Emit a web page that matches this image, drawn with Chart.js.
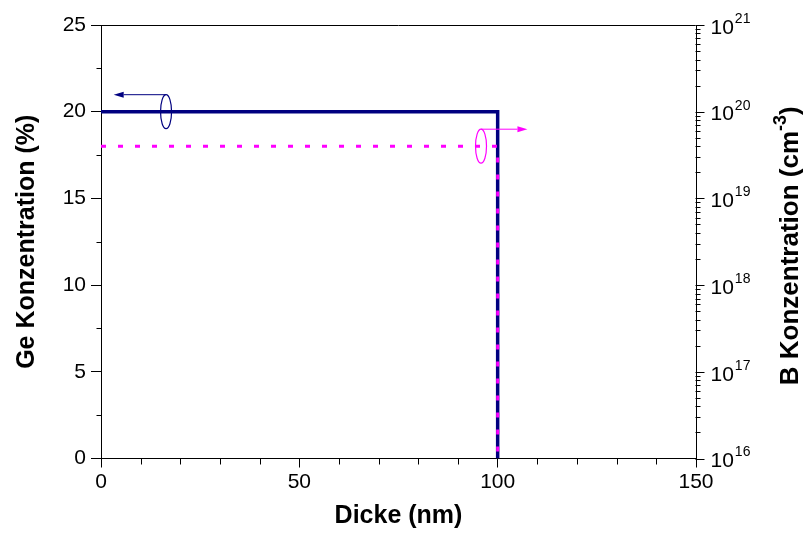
<!DOCTYPE html>
<html>
<head>
<meta charset="utf-8">
<script src="https://cdn.jsdelivr.net/npm/chart.js@4"></script>
<style>
  html, body { margin: 0; padding: 0; background: #fff; }
  #wrap { width: 804px; height: 533px; }
</style>
</head>
<body>
<div id="wrap"><canvas id="c" width="804" height="533"></canvas></div>
<script>
// Layer profile: thickness (nm), Ge content (%), boron doping (cm^-3)
const thicknessNm = [0, 100, 100];
const geConcentration = [20, 20, 0];
const boronConcentration = [4e19, 4e19, 1e16];

// Axis ranges and tick steps
const xRange = [0, 150];
const geRange = [0, 25];
const boronDecades = [16, 17, 18, 19, 20, 21];

// Marker ellipses with arrows pointing to the axis each curve belongs to
const geMarker = { x: 16.4, y: 20, arrowTo: 3.2 };
const boronMarker = { x: 95.8, y: 4e19, arrowTo: 107.5 };

const NAVY = '#000080';
const MAGENTA = '#ff00ff';
const FONT = "'Liberation Sans', Arial, sans-serif";
const TICK_SIZE = 21;
const TITLE_SIZE = 25;

function drawArrowMarker(ctx, cx, cy, tipX, color) {
  const rx = 5.5, ry = 17;
  ctx.save();
  ctx.strokeStyle = color;
  ctx.fillStyle = color;
  ctx.lineWidth = 1.2;
  ctx.beginPath();
  ctx.ellipse(cx, cy, rx, ry, 0, 0, Math.PI * 2);
  ctx.stroke();
  const ay = cy - ry;
  const dir = tipX < cx ? -1 : 1;
  const headLen = 10, headHalf = 3;
  ctx.lineWidth = 1;
  ctx.beginPath();
  ctx.moveTo(cx, ay);
  ctx.lineTo(tipX - dir * headLen, ay);
  ctx.stroke();
  ctx.beginPath();
  ctx.moveTo(tipX, ay);
  ctx.lineTo(tipX - dir * headLen, ay - headHalf);
  ctx.lineTo(tipX - dir * headLen, ay + headHalf);
  ctx.closePath();
  ctx.fill();
  ctx.restore();
}

const decorPlugin = {
  id: 'decor',
  afterDatasetsDraw(chart) {
    const { ctx, scales } = chart;
    drawArrowMarker(ctx, scales.x.getPixelForValue(geMarker.x), scales.y.getPixelForValue(geMarker.y),
      scales.x.getPixelForValue(geMarker.arrowTo), NAVY);
    drawArrowMarker(ctx, scales.x.getPixelForValue(boronMarker.x), scales.y2.getPixelForValue(boronMarker.y),
      scales.x.getPixelForValue(boronMarker.arrowTo), MAGENTA);
  },
  afterDraw(chart) {
    const { ctx, chartArea, scales } = chart;
    const L = Math.round(chartArea.left) + 0.5;
    const R = Math.round(chartArea.right) - 0.5;
    const T = Math.round(chartArea.top) + 0.5;
    const B = Math.round(chartArea.bottom) - 0.5;
    ctx.save();
    ctx.strokeStyle = '#000';
    ctx.lineWidth = 1;
    ctx.beginPath();
    // top frame
    ctx.moveTo(L, T); ctx.lineTo(R, T);
    // left minor ticks
    for (let v = geRange[0] + 2.5; v < geRange[1]; v += 5) {
      const y = Math.round(scales.y.getPixelForValue(v)) + 0.5;
      ctx.moveTo(L - 5, y); ctx.lineTo(L, y);
    }
    // bottom minor ticks
    for (let v = xRange[0] + 10; v < xRange[1]; v += 10) {
      if (v % 50 === 0) continue;
      const x = Math.round(scales.x.getPixelForValue(v)) + 0.5;
      ctx.moveTo(x, B); ctx.lineTo(x, B + 6);
    }
    // right log ticks
    for (let i = 0; i < boronDecades.length; i++) {
      const d = boronDecades[i];
      const y = Math.round(scales.y2.getPixelForValue(Math.pow(10, d))) + 0.5;
      ctx.moveTo(R, y); ctx.lineTo(R + 9, y);
      if (i < boronDecades.length - 1) {
        for (let m = 2; m <= 9; m++) {
          const ym = Math.round(scales.y2.getPixelForValue(m * Math.pow(10, d))) + 0.5;
          ctx.moveTo(R, ym); ctx.lineTo(R + 5, ym);
        }
      }
    }
    ctx.stroke();

    // right tick labels: 10 with superscript exponent
    ctx.fillStyle = '#000';
    ctx.textAlign = 'left';
    ctx.textBaseline = 'middle';
    for (const d of boronDecades) {
      const y = scales.y2.getPixelForValue(Math.pow(10, d));
      ctx.font = TICK_SIZE + 'px ' + FONT;
      ctx.fillText('10', R + 15, y + 3);
      const w = ctx.measureText('10').width;
      ctx.font = '14px ' + FONT;
      ctx.fillText(String(d), R + 15 + w + 1, y - 6);
    }

    // right axis title with superscript unit
    const parts = [
      { t: 'B Konzentration (cm', f: 'bold 26px ' + FONT, dy: 0 },
      { t: '-3', f: 'bold 18px ' + FONT, dy: -10 },
      { t: ')', f: 'bold 26px ' + FONT, dy: 0 }
    ];
    let total = 0;
    for (const p of parts) { ctx.font = p.f; p.w = ctx.measureText(p.t).width; total += p.w; }
    ctx.translate(791, (chartArea.top + chartArea.bottom) / 2 + 4);
    ctx.rotate(-Math.PI / 2);
    let px = -total / 2;
    for (const p of parts) {
      ctx.font = p.f;
      ctx.fillText(p.t, px, p.dy);
      px += p.w;
    }
    ctx.restore();
  }
};

const toPoints = (ys) => thicknessNm.map((x, i) => ({ x, y: ys[i] }));

new Chart(document.getElementById('c'), {
  type: 'line',
  data: {
    datasets: [
      {
        label: 'Ge',
        data: toPoints(geConcentration),
        yAxisID: 'y',
        borderColor: NAVY,
        borderWidth: 3.5,
        pointRadius: 0,
        tension: 0,
        order: 2
      },
      {
        label: 'B',
        data: toPoints(boronConcentration),
        yAxisID: 'y2',
        borderColor: MAGENTA,
        borderWidth: 3,
        borderDash: [5, 12],
        pointRadius: 0,
        tension: 0,
        order: 1
      }
    ]
  },
  options: {
    responsive: false,
    animation: false,
    devicePixelRatio: 1,
    layout: { padding: { top: 25, left: 0, right: 0, bottom: 0 } },
    plugins: { legend: { display: false }, tooltip: { enabled: false } },
    scales: {
      x: {
        type: 'linear',
        min: xRange[0], max: xRange[1],
        afterFit(s) { s.height = 74.5; },
        ticks: { stepSize: 50, color: '#000', font: { family: FONT, size: TICK_SIZE }, padding: 2, maxRotation: 0 },
        grid: { drawOnChartArea: false, drawTicks: true, tickLength: 9, color: '#000' },
        border: { color: '#000', width: 1 },
        title: { display: true, text: 'Dicke (nm)', color: '#000', font: { family: FONT, size: TITLE_SIZE, weight: 'bold' }, padding: { top: 0, bottom: 2 } }
      },
      y: {
        type: 'linear',
        position: 'left',
        min: geRange[0], max: geRange[1],
        afterFit(s) { s.width = 101; },
        ticks: { stepSize: 5, color: '#000', font: { family: FONT, size: TICK_SIZE }, padding: 5 },
        grid: { drawOnChartArea: false, drawTicks: true, tickLength: 10, color: '#000' },
        border: { color: '#000', width: 1 },
        title: { display: true, text: 'Ge Konzentration (%)', color: '#000', font: { family: FONT, size: TITLE_SIZE, weight: 'bold' }, padding: { top: 12, bottom: 0 } }
      },
      y2: {
        type: 'logarithmic',
        position: 'right',
        min: Math.pow(10, boronDecades[0]),
        max: Math.pow(10, boronDecades[boronDecades.length - 1]),
        afterFit(s) { s.width = 108; },
        ticks: { display: false },
        grid: { display: false, drawOnChartArea: false },
        border: { display: true, color: '#000', width: 1 }
      }
    }
  },
  plugins: [decorPlugin]
});
</script>
</body>
</html>
